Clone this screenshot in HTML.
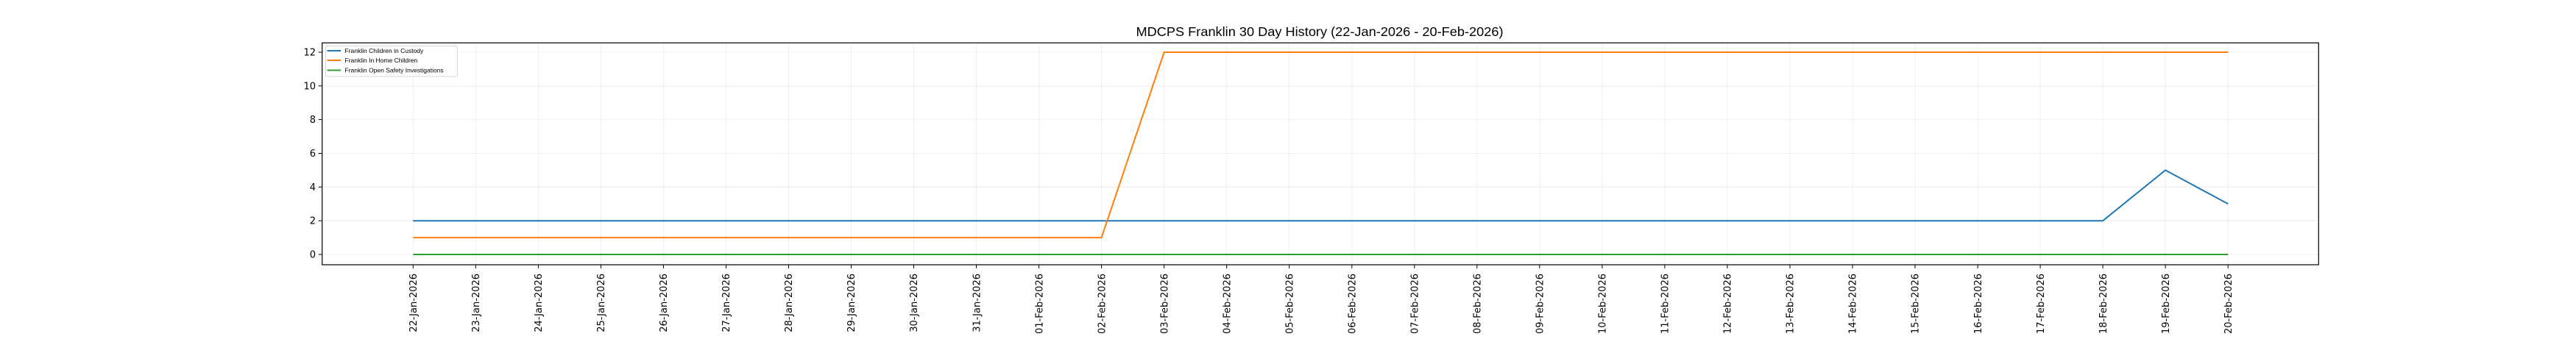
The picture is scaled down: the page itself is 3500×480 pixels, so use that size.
<!DOCTYPE html>
<html><head><meta charset="utf-8"><style>body{margin:0;background:#fff}svg{display:block}</style></head>
<body>
<svg width="3500" height="480" xmlns="http://www.w3.org/2000/svg" font-family="DejaVu Sans, Liberation Sans, sans-serif">
<rect width="3500" height="480" fill="#fff"/>
<text x="1793" y="49" font-size="17.5" text-anchor="middle" fill="#000" font-family="Liberation Sans, sans-serif" textLength="499" lengthAdjust="spacingAndGlyphs">MDCPS Franklin 30 Day History (22-Jan-2026 - 20-Feb-2026)</text>
<g stroke="#ebebeb" stroke-width="0.8">
<line x1="437.7" x2="3150.3" y1="346" y2="346"/><line x1="437.7" x2="3150.3" y1="300.2" y2="300.2"/><line x1="437.7" x2="3150.3" y1="254.3" y2="254.3"/><line x1="437.7" x2="3150.3" y1="208.5" y2="208.5"/><line x1="437.7" x2="3150.3" y1="162.6" y2="162.6"/><line x1="437.7" x2="3150.3" y1="116.8" y2="116.8"/><line x1="437.7" x2="3150.3" y1="71" y2="71"/>
<line x1="561.3" x2="561.3" y1="58.3" y2="360"/><line x1="646.3" x2="646.3" y1="58.3" y2="360"/><line x1="731.4" x2="731.4" y1="58.3" y2="360"/><line x1="816.4" x2="816.4" y1="58.3" y2="360"/><line x1="901.4" x2="901.4" y1="58.3" y2="360"/><line x1="986.5" x2="986.5" y1="58.3" y2="360"/><line x1="1071.5" x2="1071.5" y1="58.3" y2="360"/><line x1="1156.5" x2="1156.5" y1="58.3" y2="360"/><line x1="1241.5" x2="1241.5" y1="58.3" y2="360"/><line x1="1326.6" x2="1326.6" y1="58.3" y2="360"/><line x1="1411.6" x2="1411.6" y1="58.3" y2="360"/><line x1="1496.6" x2="1496.6" y1="58.3" y2="360"/><line x1="1581.7" x2="1581.7" y1="58.3" y2="360"/><line x1="1666.7" x2="1666.7" y1="58.3" y2="360"/><line x1="1751.7" x2="1751.7" y1="58.3" y2="360"/><line x1="1836.8" x2="1836.8" y1="58.3" y2="360"/><line x1="1921.8" x2="1921.8" y1="58.3" y2="360"/><line x1="2006.8" x2="2006.8" y1="58.3" y2="360"/><line x1="2091.8" x2="2091.8" y1="58.3" y2="360"/><line x1="2176.9" x2="2176.9" y1="58.3" y2="360"/><line x1="2261.9" x2="2261.9" y1="58.3" y2="360"/><line x1="2346.9" x2="2346.9" y1="58.3" y2="360"/><line x1="2432" x2="2432" y1="58.3" y2="360"/><line x1="2517" x2="2517" y1="58.3" y2="360"/><line x1="2602" x2="2602" y1="58.3" y2="360"/><line x1="2687.1" x2="2687.1" y1="58.3" y2="360"/><line x1="2772.1" x2="2772.1" y1="58.3" y2="360"/><line x1="2857.1" x2="2857.1" y1="58.3" y2="360"/><line x1="2942.1" x2="2942.1" y1="58.3" y2="360"/><line x1="3027.2" x2="3027.2" y1="58.3" y2="360"/>
</g>
<g fill="none" stroke-width="2" stroke-linejoin="round">
<polyline stroke="#1f77b4" points="561.3,300.2 2857.1,300.2 2942.1,231.4 3027.2,277.2"/>
<polyline stroke="#ff7f0e" points="561.3,323.1 1496.6,323.1 1581.7,71 3027.2,71"/>
<polyline stroke="#2ca02c" points="561.3,346 3027.2,346"/>
</g>
<rect x="437.7" y="58.3" width="2712.6" height="301.7" fill="none" stroke="#000" stroke-width="1.2"/>
<g stroke="#000" stroke-width="1">
<line x1="432.7" x2="437.7" y1="346" y2="346"/><line x1="432.7" x2="437.7" y1="300.2" y2="300.2"/><line x1="432.7" x2="437.7" y1="254.3" y2="254.3"/><line x1="432.7" x2="437.7" y1="208.5" y2="208.5"/><line x1="432.7" x2="437.7" y1="162.6" y2="162.6"/><line x1="432.7" x2="437.7" y1="116.8" y2="116.8"/><line x1="432.7" x2="437.7" y1="71" y2="71"/>
</g>
<g font-size="13" text-anchor="end" fill="#000">
<text x="429" y="350.5">0</text><text x="429" y="304.7">2</text><text x="429" y="258.8">4</text><text x="429" y="213">6</text><text x="429" y="167.1">8</text><text x="429" y="121.3">10</text><text x="429" y="75.5">12</text>
</g>
<g stroke="#000" stroke-width="1">
<line x1="561.3" x2="561.3" y1="360" y2="365"/><line x1="646.3" x2="646.3" y1="360" y2="365"/><line x1="731.4" x2="731.4" y1="360" y2="365"/><line x1="816.4" x2="816.4" y1="360" y2="365"/><line x1="901.4" x2="901.4" y1="360" y2="365"/><line x1="986.5" x2="986.5" y1="360" y2="365"/><line x1="1071.5" x2="1071.5" y1="360" y2="365"/><line x1="1156.5" x2="1156.5" y1="360" y2="365"/><line x1="1241.5" x2="1241.5" y1="360" y2="365"/><line x1="1326.6" x2="1326.6" y1="360" y2="365"/><line x1="1411.6" x2="1411.6" y1="360" y2="365"/><line x1="1496.6" x2="1496.6" y1="360" y2="365"/><line x1="1581.7" x2="1581.7" y1="360" y2="365"/><line x1="1666.7" x2="1666.7" y1="360" y2="365"/><line x1="1751.7" x2="1751.7" y1="360" y2="365"/><line x1="1836.8" x2="1836.8" y1="360" y2="365"/><line x1="1921.8" x2="1921.8" y1="360" y2="365"/><line x1="2006.8" x2="2006.8" y1="360" y2="365"/><line x1="2091.8" x2="2091.8" y1="360" y2="365"/><line x1="2176.9" x2="2176.9" y1="360" y2="365"/><line x1="2261.9" x2="2261.9" y1="360" y2="365"/><line x1="2346.9" x2="2346.9" y1="360" y2="365"/><line x1="2432" x2="2432" y1="360" y2="365"/><line x1="2517" x2="2517" y1="360" y2="365"/><line x1="2602" x2="2602" y1="360" y2="365"/><line x1="2687.1" x2="2687.1" y1="360" y2="365"/><line x1="2772.1" x2="2772.1" y1="360" y2="365"/><line x1="2857.1" x2="2857.1" y1="360" y2="365"/><line x1="2942.1" x2="2942.1" y1="360" y2="365"/><line x1="3027.2" x2="3027.2" y1="360" y2="365"/>
</g>
<g font-size="13" text-anchor="end" fill="#000">
<text transform="translate(566,372) rotate(-90)">22-Jan-2026</text>
<text transform="translate(651,372) rotate(-90)">23-Jan-2026</text>
<text transform="translate(736.1,372) rotate(-90)">24-Jan-2026</text>
<text transform="translate(821.1,372) rotate(-90)">25-Jan-2026</text>
<text transform="translate(906.1,372) rotate(-90)">26-Jan-2026</text>
<text transform="translate(991.2,372) rotate(-90)">27-Jan-2026</text>
<text transform="translate(1076.2,372) rotate(-90)">28-Jan-2026</text>
<text transform="translate(1161.2,372) rotate(-90)">29-Jan-2026</text>
<text transform="translate(1246.2,372) rotate(-90)">30-Jan-2026</text>
<text transform="translate(1331.3,372) rotate(-90)">31-Jan-2026</text>
<text transform="translate(1416.3,372) rotate(-90)">01-Feb-2026</text>
<text transform="translate(1501.3,372) rotate(-90)">02-Feb-2026</text>
<text transform="translate(1586.4,372) rotate(-90)">03-Feb-2026</text>
<text transform="translate(1671.4,372) rotate(-90)">04-Feb-2026</text>
<text transform="translate(1756.4,372) rotate(-90)">05-Feb-2026</text>
<text transform="translate(1841.5,372) rotate(-90)">06-Feb-2026</text>
<text transform="translate(1926.5,372) rotate(-90)">07-Feb-2026</text>
<text transform="translate(2011.5,372) rotate(-90)">08-Feb-2026</text>
<text transform="translate(2096.5,372) rotate(-90)">09-Feb-2026</text>
<text transform="translate(2181.6,372) rotate(-90)">10-Feb-2026</text>
<text transform="translate(2266.6,372) rotate(-90)">11-Feb-2026</text>
<text transform="translate(2351.6,372) rotate(-90)">12-Feb-2026</text>
<text transform="translate(2436.7,372) rotate(-90)">13-Feb-2026</text>
<text transform="translate(2521.7,372) rotate(-90)">14-Feb-2026</text>
<text transform="translate(2606.7,372) rotate(-90)">15-Feb-2026</text>
<text transform="translate(2691.8,372) rotate(-90)">16-Feb-2026</text>
<text transform="translate(2776.8,372) rotate(-90)">17-Feb-2026</text>
<text transform="translate(2861.8,372) rotate(-90)">18-Feb-2026</text>
<text transform="translate(2946.8,372) rotate(-90)">19-Feb-2026</text>
<text transform="translate(3031.9,372) rotate(-90)">20-Feb-2026</text>
</g>
<rect x="442.3" y="62.7" width="179" height="41.3" rx="2" fill="#fff" fill-opacity="0.8" stroke="#ccc" stroke-width="0.8"/>
<g stroke-width="2"><line x1="444.5" x2="463" y1="69" y2="69" stroke="#1f77b4"/><line x1="444.5" x2="463" y1="82" y2="82" stroke="#ff7f0e"/><line x1="444.5" x2="463" y1="95.5" y2="95.5" stroke="#2ca02c"/></g>
<g font-size="8.5" fill="#000" font-family="Liberation Sans, sans-serif">
<text x="468.5" y="72">Franklin Children in Custody</text>
<text x="468.5" y="85">Franklin In Home Children</text>
<text x="468.5" y="98.5">Franklin Open Safety Investigations</text>
</g>
</svg>
</body></html>
